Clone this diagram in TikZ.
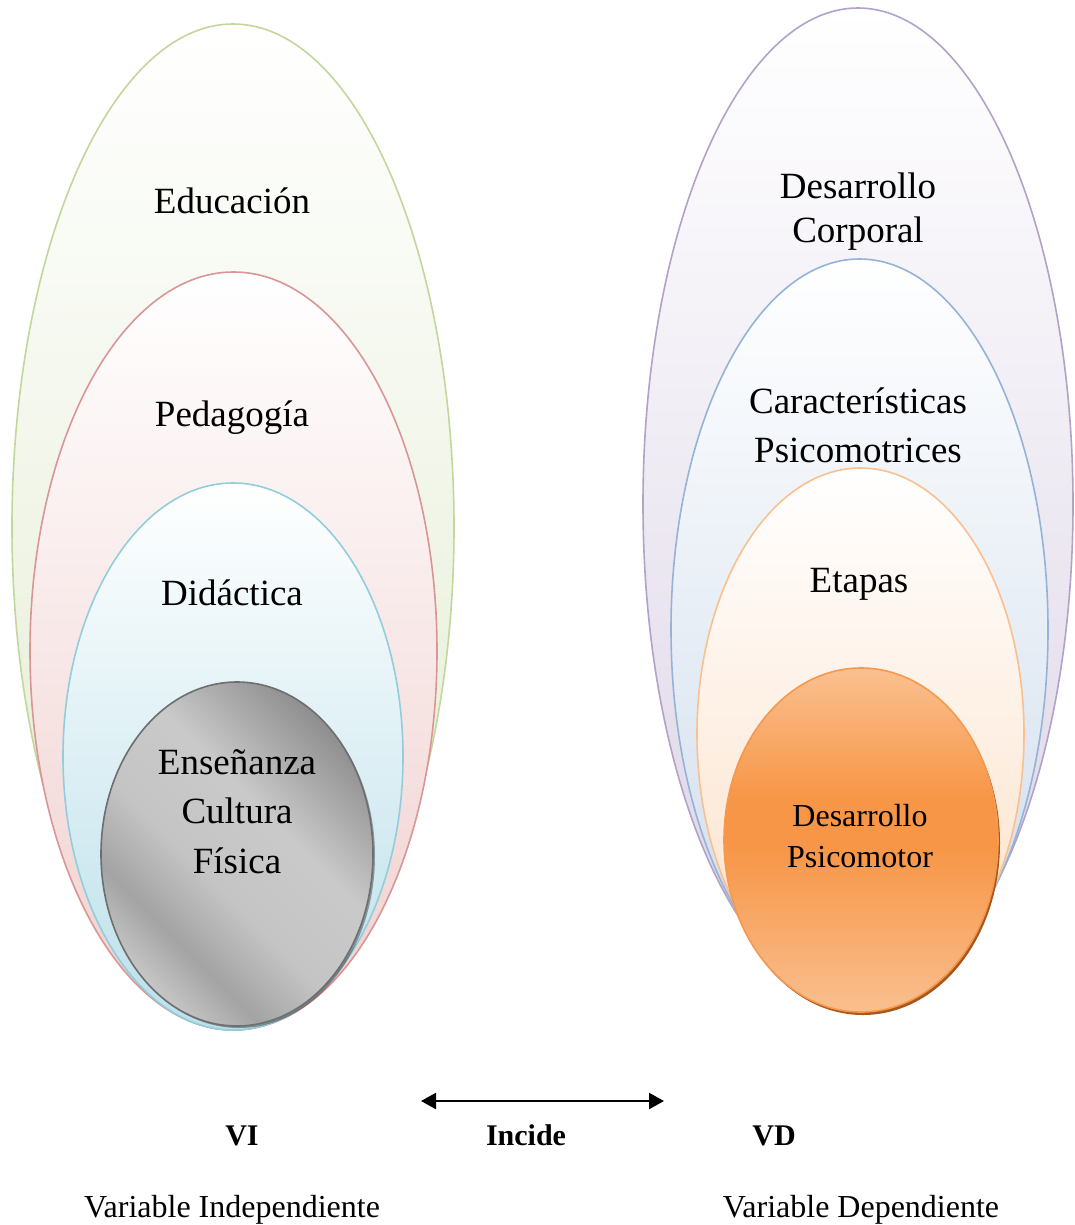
\documentclass[tikz,border=0pt]{standalone}
\usepackage{fontspec}
\setmainfont{Liberation Serif}
\usetikzlibrary{arrows.meta}
\definecolor{gline}{HTML}{C3D69B}\definecolor{gfill}{HTML}{E2EBD0}
\definecolor{rline}{HTML}{D99694}\definecolor{rfill}{HTML}{F0D0CF}
\definecolor{bline}{HTML}{92CDDC}\definecolor{bfill}{HTML}{BCE0EA}
\definecolor{pline}{HTML}{B3A2C7}\definecolor{pfill}{HTML}{DCD4E6}
\definecolor{b2line}{HTML}{95B3D7}\definecolor{b2fill}{HTML}{CFDCEC}
\definecolor{loline}{HTML}{FAC090}\definecolor{lofill}{HTML}{FCE0C8}
\definecolor{oline}{HTML}{F4994F}
\definecolor{oshadow}{HTML}{A9571B}
\definecolor{grline}{HTML}{6E6E6E}
\pgfdeclarehorizontalshading{metal}{100bp}{rgb(0bp)=(0.55,0.55,0.55); rgb(25bp)=(0.56,0.56,0.56); rgb(42bp)=(0.79,0.79,0.79); rgb(56bp)=(0.77,0.77,0.77); rgb(67bp)=(0.64,0.64,0.64); rgb(76bp)=(0.79,0.79,0.79); rgb(100bp)=(0.79,0.79,0.79)}
\pgfdeclareverticalshading{orangesh}{100bp}{rgb(0bp)=(0.976,0.749,0.565); rgb(25bp)=(0.976,0.749,0.565); rgb(49bp)=(0.969,0.588,0.275); rgb(56bp)=(0.969,0.588,0.275); rgb(75bp)=(0.980,0.753,0.565); rgb(100bp)=(0.980,0.753,0.565)}
\begin{document}
\begin{tikzpicture}[x=1pt,y=-1pt,
  ring/.style={line width=1.6pt},
  lbl/.style={anchor=base, inner sep=0pt, align=center, text=black},
  bigtxt/.style={font=\fontsize{37}{49.5}\selectfont},
  midtxt/.style={font=\fontsize{32}{41}\selectfont},
  boldtxt/.style={font=\fontsize{30}{36}\selectfont\bfseries},
  smalltxt/.style={font=\fontsize{32}{38}\selectfont}]
\fill[white] (0,0) rectangle (1074,1225);
\useasboundingbox (0,0) rectangle (1074,1225);
% ---------- left set ----------
\draw[ring, draw=gline, top color=white, bottom color=gfill] (233,527) ellipse [x radius=221, y radius=503];
\draw[ring, draw=rline, top color=white, bottom color=rfill] (233.5,651) ellipse [x radius=203.5, y radius=379];
\draw[ring, draw=bline, top color=white, bottom color=bfill] (233,756.5) ellipse [x radius=170, y radius=273.5];
\fill[black, opacity=0.35] (239,856) ellipse [x radius=136, y radius=172];
\draw[ring, draw=grline, shading=metal, shading angle=225] (237,854) ellipse [x radius=136, y radius=172];
% ---------- right set ----------
\draw[ring, draw=pline, top color=white, bottom color=pfill] (858,504) ellipse [x radius=215, y radius=496];
\draw[ring, draw=b2line, top color=white, bottom color=b2fill] (859.5,629.5) ellipse [x radius=188.5, y radius=370.5];
\draw[ring, draw=loline, top color=white, bottom color=lofill] (860.5,734) ellipse [x radius=163.5, y radius=266];
\fill[oshadow] (863,843) ellipse [x radius=137, y radius=172];
\draw[ring, draw=oline, shading=orangesh] (861,840) ellipse [x radius=137, y radius=172];
% ---------- labels ----------
\node[lbl, bigtxt] (edu) at (232,213) {Educación};
\node[lbl, bigtxt] (ped) at (232,426) {Pedagogía};
\node[lbl, bigtxt] (did) at (232,605) {Didáctica};
\node[lbl, bigtxt] (ens) at (237,873) {Enseñanza\\Cultura\\Física};
\node[lbl, font=\fontsize{37}{44}\selectfont] (dc) at (858,242) {Desarrollo\\Corporal};
\node[lbl, font=\fontsize{37}{49}\selectfont] (cp) at (858,462) {Características\\Psicomotrices};
\node[lbl, bigtxt] (eta) at (859,592) {Etapas};
\node[lbl, midtxt] (dp) at (860,867) {Desarrollo\\Psicomotor};
% ---------- bottom ----------
\node[lbl, boldtxt] (vi) at (242,1145) {VI};
\node[lbl, boldtxt] (inc) at (526,1145) {Incide};
\node[lbl, boldtxt] (vd) at (774,1145) {VD};
\node[lbl, smalltxt] (vil) at (232,1217) {Variable Independiente};
\node[lbl, smalltxt] (vdl) at (861,1217) {Variable Dependiente};
\coordinate (aL) at (421,1101);
\coordinate (aR) at (664,1101);
\draw[line width=2.4pt, {Triangle[length=15pt,width=16pt]}-{Triangle[length=15pt,width=16pt]}] (aL) -- (aR);
\end{tikzpicture}
\end{document}
